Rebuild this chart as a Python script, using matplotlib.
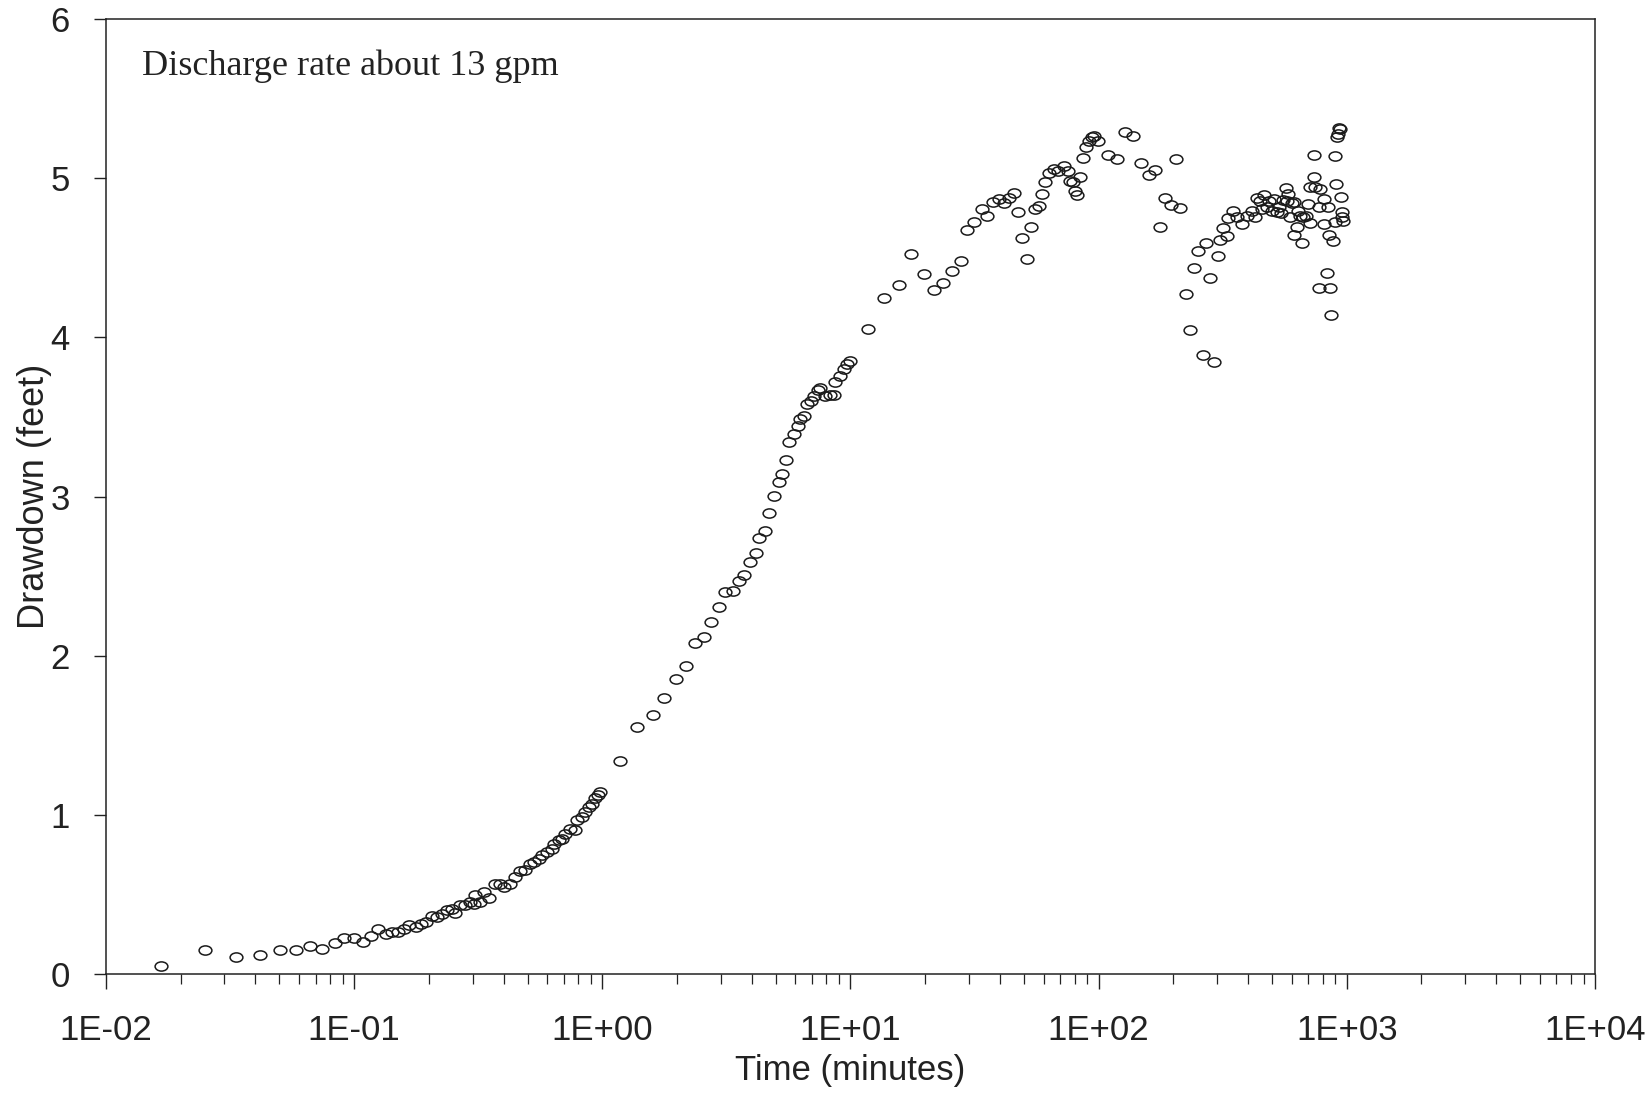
import numpy as np
import matplotlib
matplotlib.use("Agg")
import matplotlib.pyplot as plt
from matplotlib.path import Path
from matplotlib.ticker import FixedLocator, NullFormatter

# ---- data ----
time_early = [0.0166, 0.0251, 0.0334, 0.0416, 0.0501, 0.0585, 0.0666, 0.0742, 0.0834, 0.0914,
              0.100, 0.109, 0.117, 0.125, 0.134, 0.142, 0.150, 0.159, 0.167, 0.177,
              0.186, 0.195, 0.206, 0.216, 0.226, 0.237, 0.248, 0.256, 0.268, 0.281,
              0.292, 0.303, 0.308, 0.321, 0.333, 0.348, 0.371, 0.388, 0.400, 0.426,
              0.446, 0.464, 0.489, 0.513, 0.529, 0.554, 0.571, 0.599, 0.627, 0.641,
              0.667, 0.688, 0.710, 0.743, 0.778, 0.791, 0.829, 0.855, 0.881, 0.909,
              0.938, 0.962, 0.981]
drawdown_early = [0.053, 0.148, 0.106, 0.118, 0.148, 0.148, 0.177, 0.154, 0.192, 0.227,
                  0.227, 0.200, 0.238, 0.280, 0.253, 0.263, 0.263, 0.280, 0.305, 0.295,
                  0.311, 0.326, 0.362, 0.357, 0.374, 0.403, 0.410, 0.385, 0.431, 0.431,
                  0.452, 0.442, 0.494, 0.452, 0.515, 0.480, 0.564, 0.568, 0.547, 0.568,
                  0.610, 0.648, 0.652, 0.694, 0.704, 0.725, 0.746, 0.767, 0.788, 0.819,
                  0.840, 0.851, 0.882, 0.914, 0.903, 0.966, 0.987, 1.019, 1.050, 1.071,
                  1.103, 1.124, 1.145]

time_mid = [1.18, 1.38, 1.60, 1.78, 1.98, 2.17, 2.36, 2.56, 2.75, 2.94,
            3.12, 3.36, 3.54, 3.74, 3.95, 4.16, 4.30, 4.54, 4.71, 4.92,
            5.13, 5.30, 5.51, 5.68, 5.90, 6.12, 6.28, 6.52, 6.68, 6.93,
            7.15, 7.37, 7.55, 7.91, 8.29, 8.61, 8.68, 9.1, 9.4, 9.7, 10.0]
drawdown_mid = [1.337, 1.550, 1.630, 1.735, 1.854, 1.934, 2.078, 2.116, 2.212, 2.306,
                2.398, 2.409, 2.472, 2.507, 2.591, 2.646, 2.742, 2.786, 2.897, 3.006,
                3.089, 3.142, 3.232, 3.343, 3.393, 3.441, 3.487, 3.508, 3.582, 3.598,
                3.634, 3.670, 3.682, 3.634, 3.640, 3.640, 3.717, 3.76, 3.80, 3.83, 3.85]

time_late = [11.8, 13.7, 15.7, 17.6, 19.7, 21.8, 23.7, 25.7, 27.8, 29.6,
             31.6, 33.8, 35.5, 37.5, 39.5, 41.4, 43.6, 45.4, 47.3, 49.2,
             51.4, 53.4, 55.6, 57.3, 59.1, 61.0, 62.9, 65.8, 68.9, 72.6,
             75.6, 76.8, 79.2, 80.5, 82.2, 84.3, 86.9, 89.1, 91.1, 94.0,
             96.0, 99.0, 108.7, 118.5, 128.0, 138.2, 148.6, 159.0, 168.0, 177.1,
             185.5, 195.5, 204.9, 213.1, 224.7, 232.5, 242.8, 251.3, 262.2, 270.6,
             281.6, 290.5, 301.5, 309.2, 316.8, 328.6, 333.5, 347.4]
drawdown_late = [4.053, 4.245, 4.327, 4.524, 4.396, 4.300, 4.342, 4.419, 4.477, 4.675,
                 4.722, 4.804, 4.762, 4.848, 4.869, 4.842, 4.876, 4.909, 4.790, 4.624,
                 4.492, 4.695, 4.807, 4.823, 4.901, 4.974, 5.030, 5.058, 5.047, 5.079,
                 5.047, 4.984, 4.974, 4.921, 4.896, 5.005, 5.127, 5.194, 5.231, 5.256,
                 5.267, 5.235, 5.143, 5.121, 5.288, 5.267, 5.095, 5.022, 5.053, 4.693,
                 4.873, 4.832, 5.122, 4.813, 4.274, 4.046, 4.436, 4.545, 3.889, 4.590,
                 4.371, 3.847, 4.513, 4.613, 4.684, 4.634, 4.750, 4.796]

time_end = [360.6, 377.7, 395.7, 414.6, 427.6, 434.4, 448.0, 455.1, 464.8, 476.0,
            483.9, 499.0, 509.8, 522.5, 531.0, 542.0, 555.6, 568.1, 574.0, 581.9,
            591.0, 600.8, 613.8, 615.2, 629.2, 638.4, 646.0, 663.1, 669.3, 684.1,
            694.8, 707.7, 712.9, 734.5, 739.7, 746.5, 769.7, 774.1, 781.9, 805.9,
            805.9, 831.2, 839.0, 844.2, 857.4, 862.9, 879.0, 892.6, 898.5, 904.3,
            917.1, 920.9, 931.4, 940.0, 948.8, 955.6, 961.0, 970.0]
drawdown_end = [4.754, 4.712, 4.764, 4.796, 4.754, 4.876, 4.859, 4.807, 4.896, 4.817,
                4.859, 4.796, 4.869, 4.785, 4.817, 4.779, 4.863, 4.938, 4.859, 4.901,
                4.754, 4.842, 4.848, 4.643, 4.695, 4.796, 4.764, 4.590, 4.754, 4.764,
                4.838, 4.716, 4.947, 5.148, 5.005, 4.942, 4.817, 4.308, 4.930, 4.869,
                4.712, 4.402, 4.817, 4.643, 4.308, 4.141, 4.603, 4.722, 5.140, 4.962,
                5.256, 5.278, 5.315, 5.309, 4.884, 4.754, 4.785, 4.733]

x_tick_values = [1e-2, 1e-1, 1e0, 1e1, 1e2, 1e3, 1e4]
x_tick_labels = ["1E-02", "1E-01", "1E+00", "1E+01", "1E+02", "1E+03", "1E+04"]
y_tick_values = [0, 1, 2, 3, 4, 5, 6]
note_text = "Discharge rate about 13 gpm"

time = np.array(time_early + time_mid + time_late + time_end)
drawdown = np.array(drawdown_early + drawdown_mid + drawdown_late + drawdown_end)

# ---- figure ----
plt.rcParams['font.family'] = ['Liberation Sans', 'DejaVu Sans']
fig = plt.figure(figsize=(16.48, 10.94), dpi=100)
ax = fig.add_axes([0.0643, 0.1097, 0.9035, 0.8729])

# elliptical open marker
circ = Path.unit_circle()
ell = Path(circ.vertices * np.array([1.0, 0.72]), circ.codes)

ax.plot(time, drawdown, linestyle='none', marker=ell, markersize=9.2,
        markerfacecolor='none', markeredgecolor='#1a1a1a', markeredgewidth=1.1)

ax.set_xscale('log')
ax.set_xlim(1e-2, 1e4)
ax.set_ylim(0, 6)

ax.xaxis.set_major_locator(FixedLocator(x_tick_values))
ax.set_xticklabels(x_tick_labels)
minors = [m * 10.0 ** e for e in range(-2, 4) for m in range(2, 10)]
ax.xaxis.set_minor_locator(FixedLocator(minors))
ax.xaxis.set_minor_formatter(NullFormatter())
ax.set_yticks(y_tick_values)

ax.tick_params(axis='x', which='major', direction='out', length=11, width=1.0,
               color='#222222', pad=18, labelsize=25, labelcolor='#222222')
ax.tick_params(axis='x', which='minor', direction='out', length=7, width=0.9,
               color='#222222')
ax.tick_params(axis='y', which='major', direction='out', length=9, width=1.0,
               color='#222222', pad=17, labelsize=25, labelcolor='#222222')
ax.tick_params(top=False, right=False)

for s in ax.spines.values():
    s.set_linewidth(1.1)
    s.set_color('#222222')

ax.set_xlabel("Time (minutes)", fontsize=25, color='#222222', labelpad=5)
ax.set_ylabel("Drawdown (feet)", fontsize=26, color='#222222', labelpad=-1)

ax.text(0.024, 0.951, note_text, transform=ax.transAxes, fontsize=26,
        family=['Liberation Serif', 'DejaVu Serif'], va='center', ha='left',
        color='#222222')

fig.savefig("out.png", dpi=100)
